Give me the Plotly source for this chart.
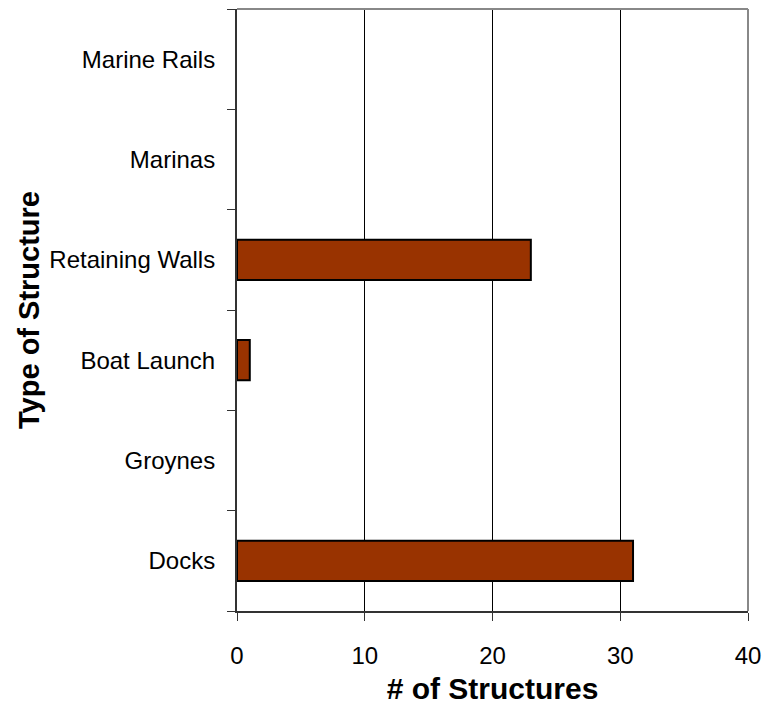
import plotly.graph_objects as go

categories = ["Docks", "Groynes", "Boat Launch", "Retaining Walls", "Marinas", "Marine Rails"]
counts = [31, 0, 1, 23, 0, 0]
x_ticks = [0, 10, 20, 30, 40]

outline_widths = [2 if v > 0 else 0 for v in counts]

fig = go.Figure()
fig.add_trace(go.Bar(
    x=counts, y=categories, orientation="h",
    marker=dict(color="#993300", line=dict(color="#000000", width=outline_widths)),
    width=0.4,
))

tick_font = "Liberation Sans, Arial, sans-serif"
title_font = "Liberation Sans, Arial, sans-serif"
fig.update_layout(
    width=765, height=712,
    margin=dict(l=237, r=17, t=9, b=101),
    paper_bgcolor="white", plot_bgcolor="white",
    showlegend=False,
    font=dict(family=tick_font, color="black", size=24),
    xaxis=dict(
        range=[0, 40], tickvals=x_ticks, ticktext=[str(v) for v in x_ticks],
        automargin=False,
        showgrid=True, gridcolor="black", gridwidth=1,
        zeroline=False,
        showline=True, linecolor="#333333", linewidth=2,
        ticks="outside", ticklen=8, tickcolor="#333333", tickwidth=1,
        ticklabelstandoff=14,
        tickfont=dict(size=24, family=tick_font, color="black"),
        title=dict(text="<b># of Structures</b>", font=dict(size=30, family=title_font, color="black"), standoff=10),
    ),
    yaxis=dict(
        categoryorder="array", categoryarray=categories,
        range=[-0.5, 5.5],
        automargin=False,
        showgrid=False, zeroline=False,
        showline=True, linecolor="#333333", linewidth=2,
        ticks="outside", ticklen=8, tickcolor="#333333", tickwidth=1,
        tickson="boundaries",
        ticklabelstandoff=15,
        tickfont=dict(size=24, family=tick_font, color="black"),
        title=dict(text="<b>Type of Structure</b>", font=dict(size=29, family=title_font, color="black"), standoff=1),
    ),
    shapes=[
        dict(type="line", xref="paper", yref="paper", x0=0, x1=1, y0=1, y1=1,
             line=dict(color="#888888", width=2)),
        dict(type="line", xref="paper", yref="paper", x0=1, x1=1, y0=0, y1=1,
             line=dict(color="#888888", width=2)),
    ],
)

fig.write_html(
    "out.html",
    config={"displayModeBar": False},
    post_script="document.body.style.margin='0px';document.body.style.overflow='hidden';",
)
